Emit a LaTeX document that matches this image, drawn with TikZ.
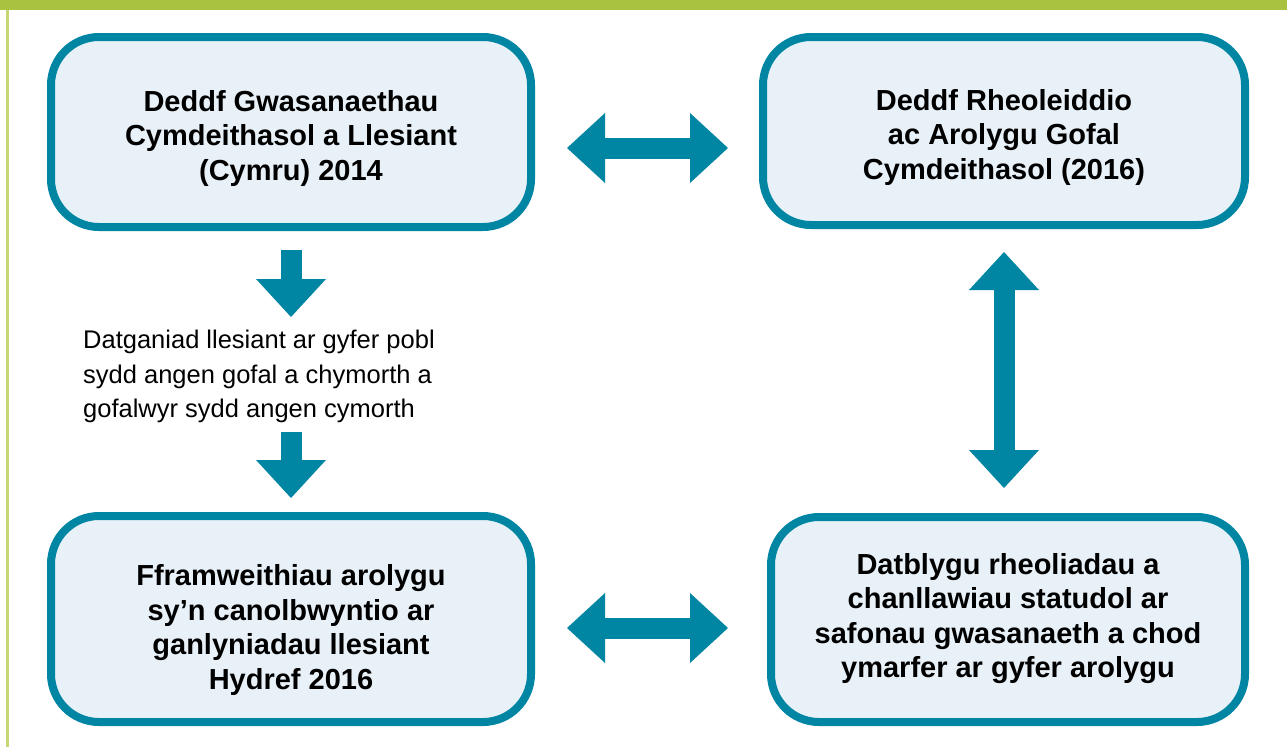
\documentclass[tikz,border=0pt]{standalone}
\usepackage{fontspec}
\setmainfont{Liberation Sans}
\usepackage{xcolor}
\usetikzlibrary{positioning,calc,arrows.meta}

\definecolor{deepteal}{HTML}{0085A3}
\definecolor{paleblue}{HTML}{E8F1F8}
\definecolor{leafgreen}{HTML}{A9C23F}
\definecolor{palegreen}{HTML}{C8D774}

\tikzset{
  actbox/.style={draw=deepteal, fill=paleblue, line width=8pt, rounded corners=48pt, inner sep=0pt},
  boxtext/.style={align=center, font=\bfseries\fontsize{29}{34.5}\selectfont, inner sep=0pt},
  fattip/.tip={Triangle[length=38pt 0 0, width=70pt 0 0, line width=0pt]},
  blockarrow/.style={draw=deepteal, line width=21pt},
}

\begin{document}
\begin{tikzpicture}[x=1pt, y=-1pt]
    \useasboundingbox (0,0) rectangle (1287,747);

    % Frame
    \fill[leafgreen] (0,0) rectangle (1287,10);
    \fill[palegreen] (6,10) rectangle (8.5,747);

    % Boxes
    \node[actbox, minimum width=480pt, minimum height=190pt,
        label={[boxtext, yshift=-6pt]center:{Deddf Gwasanaethau\\Cymdeithasol a Llesiant\\(Cymru) 2014}}]
        (gwasanaethau) at (291,132) {};
    \node[actbox, minimum width=482pt, minimum height=188pt,
        label={[boxtext, yshift=-6pt]center:{Deddf Rheoleiddio\\ac Arolygu Gofal\\Cymdeithasol (2016)}}]
        (rheoleiddio) at (1004,131) {};
    \node[actbox, minimum width=480pt, minimum height=206pt,
        label={[boxtext, yshift=-11pt]center:{Fframweithiau arolygu\\sy’n canolbwyntio ar\\ganlyniadau llesiant\\Hydref 2016}}]
        (fframweithiau) at (291,619) {};
    \node[actbox, minimum width=474pt, minimum height=205pt,
        label={[boxtext, yshift=1pt]center:{Datblygu rheoliadau a\\chanllawiau statudol ar\\safonau gwasanaeth a chod\\ymarfer ar gyfer arolygu}}]
        (datblygu) at (1008,619.5) {};

    % Statement
    \node[align=left, anchor=north west, inner sep=0pt, font=\fontsize{25.5}{34.5}\selectfont]
        (datganiad) at (83,330)
        {Datganiad llesiant ar gyfer pobl\\sydd angen gofal a chymorth a\\gofalwyr sydd angen cymorth};

    % Arrows
    \draw[blockarrow, fattip-fattip, shorten <=32pt, shorten >=31pt]
        ([yshift=-16pt]gwasanaethau.east) -- ([yshift=-16pt]gwasanaethau.east -| rheoleiddio.west);
    \draw[blockarrow, fattip-fattip, shorten <=32pt, shorten >=39pt]
        ([yshift=-9pt]fframweithiau.east) -- ([yshift=-9pt]fframweithiau.east -| datblygu.west);
    \draw[blockarrow, fattip-fattip, shorten <=23pt, shorten >=25pt]
        (rheoleiddio.south) -- (rheoleiddio.south |- datblygu.north);
    \draw[blockarrow, -fattip, shorten <=19pt, shorten >=13pt]
        (gwasanaethau.south) -- (gwasanaethau.south |- datganiad.north);
    \draw[blockarrow, -fattip, shorten <=9pt, shorten >=14pt]
        (gwasanaethau.south |- datganiad.south) -- (fframweithiau.north);
\end{tikzpicture}
\end{document}
